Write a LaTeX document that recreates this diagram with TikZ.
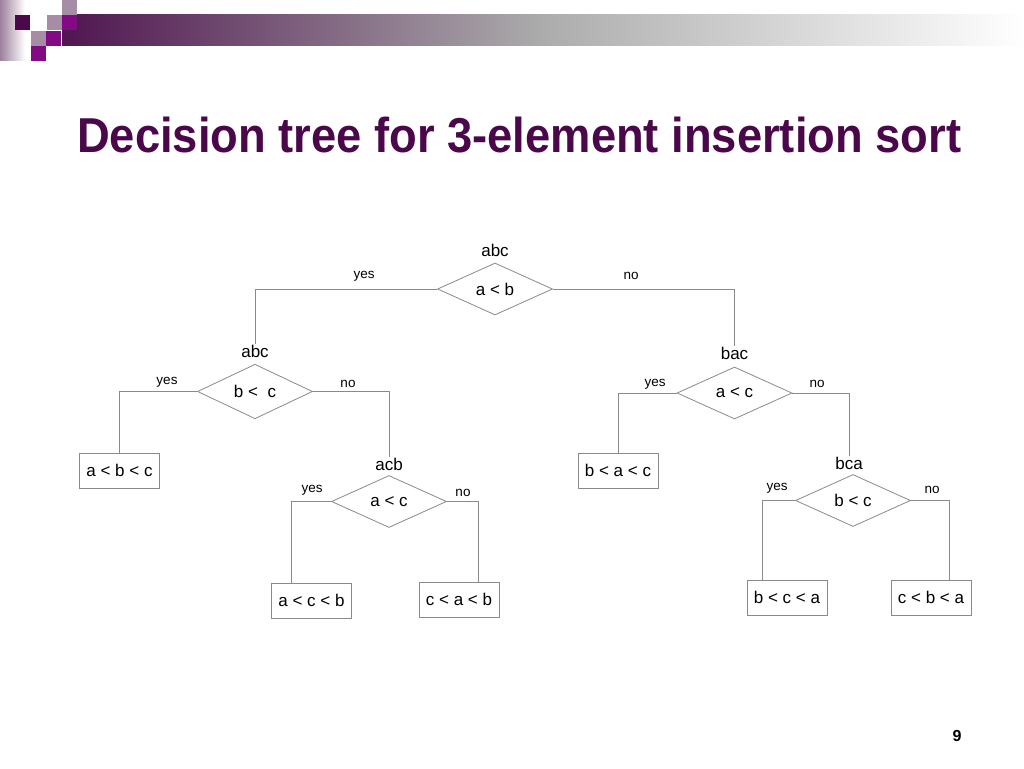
\documentclass[tikz,border=0pt]{standalone}
\usepackage{fontspec}
\setmainfont{Liberation Sans}
\newfontfamily\titlefont[FakeStretch=0.925]{Liberation Sans}
\usepackage{tikz}
\usetikzlibrary{shapes.geometric,positioning,calc}
\definecolor{tpurple}{HTML}{4A084A}
\definecolor{dpurple}{HTML}{4A0A4A}
\definecolor{mpurple}{HTML}{820A82}
\definecolor{gpurple}{HTML}{A68DA6}
\definecolor{lgray}{HTML}{8A8A8A}

\begin{document}
\begin{tikzpicture}[x=1pt,y=-1pt,font=\fontsize{17}{20}\selectfont,
  test/.style={diamond,draw=lgray,line width=0.8pt,minimum width=115pt,minimum height=52pt,inner sep=0pt},
  leaf/.style={draw=lgray,line width=0.8pt,minimum width=80pt,minimum height=35pt,inner sep=0pt},
  perm/.style={inner sep=1pt},
  ans/.style={inner sep=0pt,font=\fontsize{13.5}{15}\selectfont},
  branch/.style={draw=lgray,line width=0.8pt}]
  \useasboundingbox[fill=white] (0,0) rectangle (1024,768);
  % slide header
  \shade[left color=gpurple!90!dpurple,right color=white] (0,0) rectangle (25,60);
  \shade[left color=dpurple!90!gray,right color=white,middle color=gray!65] (62,15) rectangle (1024,46);
  \fill[dpurple] (15,15) rectangle +(15,15);
  \fill[gpurple] (62,0) rectangle +(15,15);
  \fill[gpurple] (47,15) rectangle +(15,15);
  \fill[mpurple] (62,15) rectangle +(15,15);
  \fill[gpurple] (31,31) rectangle +(15,15);
  \fill[mpurple] (46,31) rectangle +(15,15);
  \fill[mpurple] (31,46) rectangle +(15,15);
  \node[anchor=base west,inner sep=0pt,text=tpurple,font=\titlefont\bfseries\fontsize{49}{55}\selectfont] (title) at (77,152) {Decision tree for 3-element insertion sort};

  % comparisons
  \node[test] (d1) at (495,289) {a < b};
  \node[perm,above=5pt of d1] (p1) {abc};
  \node[test] (d2) at (255,391.5) {b <\ \ c};
  \node[perm,above=5pt of d2] (p2) {abc};
  \node[test] (d3) at (389,501.5) {a < c};
  \node[perm,above=3pt of d3] (p3) {acb};
  \node[test] (d4) at (734.5,393) {a < c};
  \node[perm,above=6pt of d4] (p4) {bac};
  \node[test] (d5) at (853,500.5) {b < c};
  \node[perm,above=3pt of d5,xshift=-4pt] (p5) {bca};

  % outcomes
  \node[leaf] (l1) at (119.5,470.5) {a < b < c};
  \node[leaf] (l2) at (618,470.5) {b < a < c};
  \node[leaf] (l3) at (311.5,600.5) {a < c < b};
  \node[leaf] (l4) at (459,599.5) {c < a < b};
  \node[leaf] (l5) at (787,597.5) {b < c < a};
  \node[leaf] (l6) at (931,597.5) {c < b < a};

  \draw[branch] (d1.west) -| (p2.north);
  \draw[branch] (d1.east) -| (p4.north);
  \draw[branch] (d2.west) -| (l1.north);
  \draw[branch] (d2.east) -| (p3.north);
  \draw[branch] (d3.west) -| ($(l3.north west)!0.25!(l3.north east)$);
  \draw[branch] (d3.east) -| ($(l4.north west)!0.74!(l4.north east)$);
  \draw[branch] (d4.west) -| (l2.north);
  \draw[branch] (d4.east) -| (p5.north);
  \draw[branch] (d5.west) -| ($(l5.north west)!0.2!(l5.north east)$);
  \draw[branch] (d5.east) -| ($(l6.north west)!0.73!(l6.north east)$);

  \node[ans] (y1) at (364,276) {yes};
  \node[ans] (n1) at (631,276) {no};
  \node[ans] (y2) at (167,382) {yes};
  \node[ans] (n2) at (348,384) {no};
  \node[ans] (y3) at (312,490) {yes};
  \node[ans] (n3) at (463,493) {no};
  \node[ans] (y4) at (655,384) {yes};
  \node[ans] (n4) at (817,384) {no};
  \node[ans] (y5) at (777,488) {yes};
  \node[ans] (n5) at (932,490) {no};

  \node[font=\bfseries\fontsize{16}{18}\selectfont] (pg) at (957,736) {9};
\end{tikzpicture}
\end{document}
